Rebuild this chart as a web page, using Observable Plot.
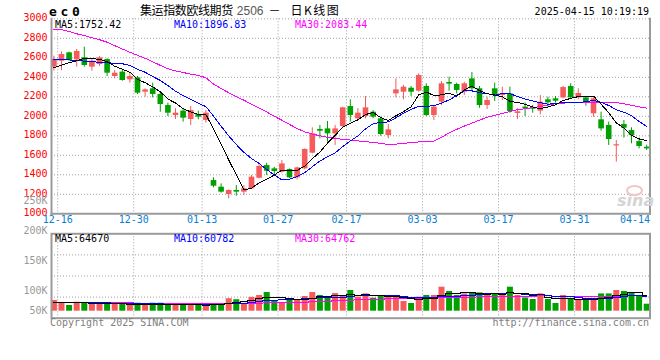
<!DOCTYPE html>
<html>
<head>
<meta charset="utf-8">
<script src="https://cdn.jsdelivr.net/npm/d3@7"></script>
<script src="https://cdn.jsdelivr.net/npm/@observablehq/plot@0.6"></script>
<style>
html,body{margin:0;padding:0;background:#fff;}
#chart{position:relative;width:660px;height:360px;overflow:hidden;background:#fff;}
#chart svg{position:absolute;left:0;top:0;background:transparent;}
.t{position:absolute;white-space:nowrap;line-height:12px;font-family:"DejaVu Sans Mono",monospace;font-size:10px;color:#000;}
</style>
</head>
<body>
<div id="chart"></div>
<script>
// ---------------- data ----------------
const dates = ["12-16","12-17","12-18","12-19","12-20","12-23","12-24","12-25","12-26","12-27","12-30","12-31",
"01-02","01-03","01-06","01-07","01-08","01-09","01-10","01-13","01-14","01-15","01-16","01-17","01-20","01-21","01-22","01-23","01-24","01-27",
"02-05","02-06","02-07","02-10","02-11","02-12","02-13","02-14","02-17","02-18","02-19","02-20","02-21","02-24","02-25","02-26","02-27","02-28",
"03-03","03-04","03-05","03-06","03-07","03-10","03-11","03-12","03-13","03-14","03-17","03-18","03-19","03-20","03-21","03-24","03-25","03-26","03-27","03-28","03-31",
"04-01","04-02","04-03","04-07","04-08","04-09","04-10","04-11","04-14","04-15"];

const opens  = [2504,2565,2651,2579,2600,2504,2531,2582,2408,2453,2374,2394,2247,2282,2224,2111,2008,2053,1967,2018,1957,
1341,1273,1198,1239,1222,1256,1365,1495,1461,1427,1454,1369,1461,1622,1865,1871,1820,1895,2100,1974,1998,2042,1974,1803,2230,2247,2288,
2258,2306,2008,2145,2347,2326,2247,2384,2282,2111,2282,2213,2230,2029,2094,2090,2053,2169,2179,2189,2306,2189,2189,2025,1964,1906,1697,1916,1854,1741,1683];
const highs  = [2617,2661,2658,2685,2709,2589,2613,2589,2470,2477,2435,2408,2282,2340,2247,2135,2077,2077,2100,2053,2059,
1369,1307,1246,1290,1290,1393,1505,1519,1478,1547,1461,1478,1666,1882,1906,1947,1906,2094,2169,2077,2203,2059,1991,1916,2384,2316,2306,
2435,2333,2111,2357,2401,2340,2350,2449,2306,2196,2340,2299,2299,2077,2138,2111,2213,2196,2203,2306,2333,2282,2196,2189,2042,1940,1752,1957,1882,1776,1704];
const lows   = [2463,2470,2565,2504,2504,2463,2511,2408,2384,2360,2340,2224,2196,2189,2042,1998,1967,1940,1906,1964,1930,
1266,1212,1153,1181,1188,1249,1358,1393,1393,1417,1362,1348,1451,1615,1769,1735,1701,1888,1940,1957,1974,1974,1796,1769,2189,2169,2203,
2247,1998,1957,2111,2258,2230,2213,2265,2083,2070,2152,2162,2032,1967,1998,2032,2015,2094,2135,2179,2179,2169,2104,1991,1847,1701,1530,1776,1718,1666,1649];
const closes = [2582,2634,2572,2665,2521,2565,2600,2442,2442,2367,2408,2237,2271,2224,2121,2032,2032,1981,2059,1991,2032,
1283,1222,1239,1222,1256,1376,1485,1437,1434,1512,1369,1471,1660,1820,1847,1820,1871,2087,2008,2032,2087,1991,1813,1861,2271,2299,2247,
2418,2008,2094,2333,2330,2265,2333,2282,2111,2162,2213,2234,2049,2046,2077,2073,2145,2138,2155,2295,2189,2234,2145,2179,1871,1762,1707,1878,1803,1690,1666];

const ma5  = [2497,2525,2550,2570,2595,2591,2585,2559,2514,2483,2452,2379,2345,2301,2252,2177,2136,2078,2045,2019,2019,
1869,1717,1553,1400,1244,1263,1316,1355,1398,1449,1447,1445,1489,1566,1633,1724,1804,1889,1927,1964,2017,2041,1986,1957,2005,2047,2098,
2219,2249,2213,2220,2237,2206,2271,2309,2264,2231,2220,2200,2154,2141,2124,2096,2078,2096,2118,2161,2184,2202,2204,2208,2124,2038,1933,1879,1804,1768,1752];
const ma10 = [2585,2583,2578,2572,2566,2560,2554,2549,2544,2539,2522,2482,2452,2408,2368,2315,2258,2212,2173,2136,2098,
2003,1898,1799,1710,1632,1566,1517,1454,1399,1347,1355,1381,1422,1482,1541,1586,1625,1689,1747,1799,1871,1923,1938,1942,1985,2032,2070,
2103,2103,2109,2134,2168,2213,2260,2261,2242,2234,2213,2236,2232,2203,2178,2158,2139,2125,2130,2143,2140,2140,2150,2163,2143,2111,2068,2042,2006,1946,1897];
const ma30 = [2893,2890,2870,2846,2828,2806,2786,2760,2725,2690,2657,2625,2595,2560,2522,2487,2466,2449,2433,2420,2395,
2330,2284,2242,2201,2165,2125,2085,2045,2000,1960,1917,1874,1841,1818,1800,1785,1772,1765,1757,1748,1740,1732,1722,1712,1715,1722,1730,
1737,1741,1745,1785,1830,1866,1900,1930,1960,1990,2010,2030,2050,2068,2078,2088,2100,2115,2128,2135,2140,2143,2145,2145,2145,2145,2140,2128,2112,2097,2083];

// volume, in thousands of lots
const volumes = [44.0,34.2,23.5,37.0,34.2,34.2,30.0,30.0,30.0,30.0,23.5,32.9,23.5,32.9,32.9,25.9,25.9,23.5,30.0,23.5,
23.5,30.0,30.0,51.4,47.3,32.1,56.8,64.6,77.0,42.4,35.0,45.3,47.3,60.5,77.0,64.6,52.7,72.4,64.6,85.2,
57.6,71.2,53.5,64.6,57.6,57.6,39.9,31.7,57.6,64.6,64.6,98.8,81.1,64.6,71.2,75.3,75.3,64.6,71.2,64.6,
98.8,64.6,54.7,48.1,71.2,48.1,31.7,64.6,48.1,48.1,44.0,44.0,71.2,71.2,85.2,81.1,75.3,61.7,28.8];
const volMa5  = [36,36,35,35,34.6,32.6,31.8,33.1,31.7,30.8,28.7,29.3,28.0,28.6,29.1,29.6,28.2,28.2,27.6,25.8,
25.3,26.1,27.4,31.7,36.4,38.2,43.5,50.4,55.6,54.6,55.2,52.9,49.4,46.1,53.0,58.9,60.4,65.4,66.3,67.9,
66.5,70.2,66.4,66.4,60.9,60.9,54.6,50.3,48.9,50.3,51.7,63.5,73.3,74.7,76.1,78.2,73.5,70.2,71.5,70.2,
74.9,72.8,70.8,66.2,67.5,57.3,50.8,52.7,52.7,48.1,47.3,49.8,51.1,55.7,63.1,70.5,76.8,74.9,64.7];
const volMa10 = [37,37,36,36,35,35,34,34,33,32.7,30.7,30.6,30.6,30.2,30.0,29.2,28.8,28.1,28.1,27.5,
27.5,27.2,27.8,29.7,31.1,31.8,34.8,38.9,43.7,45.5,46.7,48.2,49.9,50.9,53.8,57.1,56.7,57.4,56.2,60.5,
62.7,65.3,65.9,66.4,64.4,63.7,62.4,58.4,57.7,55.6,56.3,59.1,61.8,61.8,63.2,65.0,68.5,71.8,73.1,73.2,
76.6,73.2,70.5,68.9,68.9,66.1,61.8,61.8,59.5,57.8,52.3,50.3,51.9,54.2,55.6,58.9,63.3,63.0,60.8];
const volMa30 = [37,37,37,36.5,36,36,35.5,35,35,34.5,34,33.5,33,33,32.5,32,32,31.5,31,30.5,
30,30,30,30.5,31,31.5,32,33,34,34.5,35,35.5,36,37,38.5,40,41,42.5,44,45.5,
46.5,47.5,48.5,49.5,50.5,51,51.5,52,52.5,53,53.5,54.5,55.5,56.5,57,57.5,58.5,59.5,60,60.5,
61.5,62,62.5,62.5,63,63,62.5,62.5,62.5,62,62,61.5,61.5,61.5,62,62.5,63,64,64.8];

const priceTicks = [1000,1200,1400,1600,1800,2000,2200,2400,2600,2800,3000];
const volTickValues = [250,200,150,100,50];
const volTickLabels = ["250K","200K","150K","100K","50K"];
const gridDates = ["12-16","12-30","01-13","01-27","02-17","03-03","03-17","03-31"];
const dateLabels = ["12-16","12-30","01-13","01-27","02-17","03-03","03-17","03-31","04-14"];
const priceMALegend = ["MA5:1752.42","MA10:1896.83","MA30:2083.44"];
const volMALegend = ["MA5:64670","MA10:60782","MA30:64762"];
const maColors = ["#000000","#0000ff","#ff00ff"];

// ---------------- drawing ----------------
const MONO = "DejaVu Sans Mono";
const UP = "#f65b5b", DOWN = "#00a000";
const GRID = {stroke: "#a0a0a0", strokeDasharray: "1,2", strokeWidth: 1};
const BORDER = {stroke: "#9a9a9a", strokeWidth: 2};
const X = {type: "linear", domain: [0, dates.length - 1], range: [53.4, 646.2], axis: null};
const STYLE = {background: "transparent", overflow: "visible", fontFamily: MONO, fontSize: "10px"};
const LINE = {strokeWidth: 1, shapeRendering: "crispEdges"};

const candles = dates.map((date, i) => ({
  i, date, o: opens[i], h: highs[i], l: lows[i], c: closes[i], v: volumes[i],
  color: closes[i] >= opens[i] ? UP : DOWN
}));
const bodyLo = d => Math.abs(d.c - d.o) < 12 ? (d.o + d.c) / 2 - 6 : Math.min(d.o, d.c);
const bodyHi = d => Math.abs(d.c - d.o) < 12 ? (d.o + d.c) / 2 + 6 : Math.max(d.o, d.c);
const gridIdx = gridDates.map(d => dates.indexOf(d) + 0.5);

const main = Plot.plot({
  width: 660, height: 360,
  marginLeft: 51, marginRight: 10.5, marginTop: 18.3, marginBottom: 146.7,
  style: STYLE,
  x: X,
  y: {domain: [1000, 3000], axis: null},
  color: {type: "identity"},
  marks: [
    Plot.ruleY(priceTicks.filter(v => v > 1000), GRID),
    Plot.ruleX(gridIdx, GRID),
    Plot.ruleX(candles, {x: "i", y1: "l", y2: "h", stroke: "color", strokeWidth: 1}),
    Plot.ruleX(candles, {x: "i", y1: bodyLo, y2: bodyHi, stroke: "color", strokeWidth: 5.6}),
    Plot.lineY(ma30, {stroke: maColors[2], ...LINE}),
    Plot.lineY(ma10, {stroke: maColors[1], ...LINE}),
    Plot.lineY(ma5, {stroke: maColors[0], ...LINE}),
    Plot.frame({anchor: "left", ...BORDER}),
    Plot.frame({anchor: "right", ...BORDER}),
    Plot.frame({anchor: "bottom", ...BORDER}),
    Plot.axisY(priceTicks, {anchor: "left", tickSize: 0, tickPadding: 4, fill: "#ff0000",
      fontFamily: MONO, fontSize: 10, dy: -1, tickFormat: d => String(d)}),
    Plot.text(dateLabels.slice(0, -1), {x: d => dates.indexOf(d) + 0.5, frameAnchor: "bottom", dy: 8.8,
      fill: "#0b80d0", fontFamily: MONO, fontSize: 10}),
    Plot.text(dateLabels.slice(-1), {frameAnchor: "bottom-right", textAnchor: "end", dy: 8.8,
      fill: "#0b80d0", fontFamily: MONO, fontSize: 10})
  ]
});

const vMin = -28.8, vMax = 318.5;
const volGrid = [1, 2, 3].map(q => vMin + (vMax - vMin) * q / 4);
const volPlot = Plot.plot({
  width: 660, height: 360,
  marginLeft: 51, marginRight: 10.5, marginTop: 233.3, marginBottom: 42.3,
  style: STYLE,
  x: X,
  y: {domain: [vMin, vMax], axis: null},
  color: {type: "identity"},
  marks: [
    Plot.ruleY(volGrid, GRID),
    Plot.ruleX(gridIdx, GRID),
    Plot.ruleX(candles, {x: "i", y1: 0, y2: "v", stroke: "color", strokeWidth: 6}),
    Plot.lineY(volMa30, {stroke: maColors[2], curve: "step", ...LINE}),
    Plot.lineY(volMa10, {stroke: maColors[1], curve: "step", ...LINE}),
    Plot.lineY(volMa5, {stroke: maColors[0], curve: "step", ...LINE}),
    Plot.frame(BORDER)
  ]
});

const volLabel = d => volTickLabels[volTickValues.indexOf(d)];
const volAxis = Plot.plot({
  width: 660, height: 360,
  marginLeft: 51, marginRight: 10.5, marginTop: 200.5, marginBottom: 10.5,
  style: STYLE,
  y: {domain: [0, 250], axis: null},
  marks: [
    Plot.axisY(volTickValues.filter(v => v > 50), {anchor: "left", tickSize: 0, tickPadding: 4, fill: "#999",
      fontFamily: MONO, fontSize: 10, tickFormat: volLabel}),
    Plot.axisY(volTickValues.filter(v => v === 50), {anchor: "left", tickSize: 0, tickPadding: 4, fill: "#999",
      fontFamily: MONO, fontSize: 10, dy: -9.7, tickFormat: volLabel})
  ]
});

const wrap = document.getElementById("chart");
wrap.append(main, volPlot, volAxis);

function addText(html, style) {
  const el = document.createElement("div");
  el.className = "t";
  el.innerHTML = html;
  Object.assign(el.style, style);
  wrap.appendChild(el);
  return el;
}
// header
addText("ec0", {left: "49px", top: "5.5px", fontWeight: "bold", fontSize: "13px", letterSpacing: "3.7px"});
addText('<span style="letter-spacing:-0.4px">集运指数欧线期货</span>' +
  '<span style="font-family:\'Liberation Sans\';font-size:12px;color:#555;margin-left:4px">2506</span>' +
  '<span style="margin-left:5px">－</span>' +
  '<span style="margin-left:10px;letter-spacing:1.5px">日K线图</span>',
  {left: "140px", top: "2.5px", fontFamily: "'Noto Sans CJK SC'", fontSize: "12px", lineHeight: "14px"});
addText("2025-04-15 10:19:19", {right: "11px", top: "6.2px"});
// MA legends
const legX = [55, 174, 295];
priceMALegend.forEach((s, i) => addText(s, {left: legX[i] + "px", top: "18.8px", color: maColors[i]}));
volMALegend.forEach((s, i) => addText(s, {left: legX[i] + "px", top: "232.8px", color: maColors[i]}));
// footer
addText("Copyright 2025 SINA.COM", {left: "50px", top: "316.5px", color: "#808080"});
addText("http://finance.sina.com.cn", {right: "11px", top: "316.5px", color: "#808080"});
// watermark
addText('<span style="display:inline-block;width:13px;height:7px;border:2px solid #f3c4c4;border-radius:50%"></span>',
  {left: "626px", top: "185px", lineHeight: "11px"});
addText("sina", {left: "617px", top: "194px", fontFamily: "'DejaVu Sans'", fontStyle: "italic", fontWeight: "bold",
  fontSize: "16px", lineHeight: "14px", color: "#d4d4d4"});
</script>
</body>
</html>
